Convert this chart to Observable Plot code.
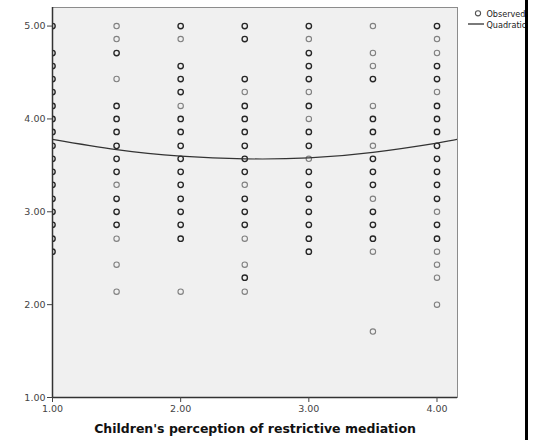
<!DOCTYPE html>
<html>
<head>
<meta charset="utf-8">
<script src="https://cdn.jsdelivr.net/npm/d3@7"></script>
<script src="https://cdn.jsdelivr.net/npm/@observablehq/plot@0.6"></script>
<style>
  body { margin: 0; background: #fff; }
  #wrap { position: relative; width: 534px; height: 440px; overflow: hidden; font-family: "DejaVu Sans", sans-serif; }
  #legend { position: absolute; left: 462px; top: 0; width: 63px; height: 32px; overflow: hidden; }
  #bar { position: absolute; left: 525px; top: 0; width: 3px; height: 440px; background: #000; }
</style>
</head>
<body>
<div id="wrap">
  <div id="chart"></div>
  <div id="legend">
    <svg width="90" height="32" font-family="DejaVu Sans Condensed, DejaVu Sans, sans-serif" font-size="9">
      <circle cx="16" cy="13.3" r="2.6" fill="none" stroke="#555" stroke-width="1.1"></circle>
      <text x="24.5" y="17.3" fill="#222">Observed</text>
      <line x1="6" x2="22" y1="24" y2="24" stroke="#222" stroke-width="1.2"></line>
      <text x="24.5" y="27.7" fill="#222">Quadratic</text>
    </svg>
  </div>
  <div id="bar"></div>
</div>
<script>
// Categories (x positions of the observed columns)
const xLevels = [1.00, 1.50, 2.00, 2.50, 3.00, 3.50, 4.00];

// Observed y values per column
const obs100 = [5.00, 4.71, 4.57, 4.43, 4.29, 4.14, 4.00, 3.86, 3.71, 3.57, 3.43, 3.29, 3.14, 3.00, 2.86, 2.71, 2.57];
const obs150 = [5.00, 4.86, 4.71, 4.43, 4.14, 4.00, 3.86, 3.71, 3.57, 3.43, 3.29, 3.14, 3.00, 2.86, 2.71, 2.43, 2.14];
const obs200 = [5.00, 4.86, 4.57, 4.43, 4.29, 4.14, 4.00, 3.86, 3.71, 3.57, 3.43, 3.29, 3.14, 3.00, 2.86, 2.71, 2.14];
const obs250 = [5.00, 4.86, 4.43, 4.29, 4.14, 4.00, 3.86, 3.71, 3.57, 3.43, 3.29, 3.14, 3.00, 2.86, 2.71, 2.43, 2.29, 2.14];
const obs300 = [5.00, 4.86, 4.71, 4.57, 4.43, 4.29, 4.14, 4.00, 3.86, 3.71, 3.57, 3.43, 3.29, 3.14, 3.00, 2.86, 2.71, 2.57];
const obs350 = [5.00, 4.71, 4.57, 4.43, 4.14, 4.00, 3.86, 3.71, 3.57, 3.43, 3.29, 3.14, 3.00, 2.86, 2.71, 2.57, 1.71];
const obs400 = [5.00, 4.86, 4.71, 4.57, 4.43, 4.29, 4.14, 4.00, 3.86, 3.71, 3.57, 3.43, 3.29, 3.14, 3.00, 2.86, 2.71, 2.57, 2.43, 2.29, 2.00];

// Values that appear as single (lighter) observations; the rest overlap (darker)
const single100 = [];
const single150 = [5.00, 4.86, 4.43, 3.29, 2.71, 2.43, 2.14];
const single200 = [4.86, 4.14, 2.14];
const single250 = [4.29, 3.29, 2.71, 2.43, 2.14];
const single300 = [4.86, 4.29, 4.00, 3.57];
const single350 = [5.00, 4.71, 4.57, 4.14, 3.71, 3.14, 2.57, 1.71];
const single400 = [4.86, 4.71, 4.29, 3.00, 2.57, 2.43, 2.29, 2.00];

// Quadratic fit line
const fitX = [1.00, 1.50, 2.00, 2.50, 3.00, 3.50, 4.00, 4.16];
const fitY = [3.78, 3.67, 3.60, 3.57, 3.58, 3.64, 3.74, 3.78];

// Ticks and labels
const xTicks = [1, 2, 3, 4];
const yTicks = [1, 2, 3, 4, 5];
const xTitle = "Children's perception of restrictive mediation";

const columns = [obs100, obs150, obs200, obs250, obs300, obs350, obs400];
const singles = [single100, single150, single200, single250, single300, single350, single400];
const points = [];
columns.forEach((ys, i) => ys.forEach(y => points.push({x: xLevels[i], y, single: singles[i].includes(y)})));
const fit = fitX.map((x, i) => ({x, y: fitY[i]}));

const chart = Plot.plot({
  width: 534,
  height: 440,
  marginLeft: 52,
  marginRight: 77,
  marginTop: 7,
  marginBottom: 43,
  style: {fontFamily: "DejaVu Sans, sans-serif", background: "transparent", overflow: "visible"},
  x: {domain: [1, 4.16]},
  y: {domain: [1, 5.2]},
  marks: [
    Plot.frame({fill: "#f0f0f0", stroke: "#8c8c8c"}),
    Plot.dot(points.filter(d => d.single), {x: "x", y: "y", r: 2.7, stroke: "#808080", strokeWidth: 1.1, fill: "none", clip: true}),
    Plot.dot(points.filter(d => !d.single), {x: "x", y: "y", r: 2.7, stroke: "#262626", strokeWidth: 1.35, fill: "none", clip: true}),
    Plot.line(fit, {x: "x", y: "y", curve: "natural", stroke: "#333", strokeWidth: 1.2, clip: true}),
    Plot.ruleX([1], {stroke: "#333", strokeWidth: 1.5}),
    Plot.ruleY([1], {stroke: "#333", strokeWidth: 1.5}),
    Plot.axisX({ticks: xTicks, tickFormat: d => d.toFixed(2), tickSize: 5, tickPadding: 3, label: null, fontSize: 9.5, color: "#444"}),
    Plot.axisY({ticks: yTicks, tickFormat: d => d.toFixed(2), tickSize: 5, tickPadding: 2, label: null, fontSize: 9.5, color: "#444"}),
    Plot.text([xTitle], {frameAnchor: "bottom", dy: 35, fontSize: 12.5, fontWeight: "bold", fill: "#111"})
  ]
});
document.getElementById("chart").appendChild(chart);
</script>
</body>
</html>
